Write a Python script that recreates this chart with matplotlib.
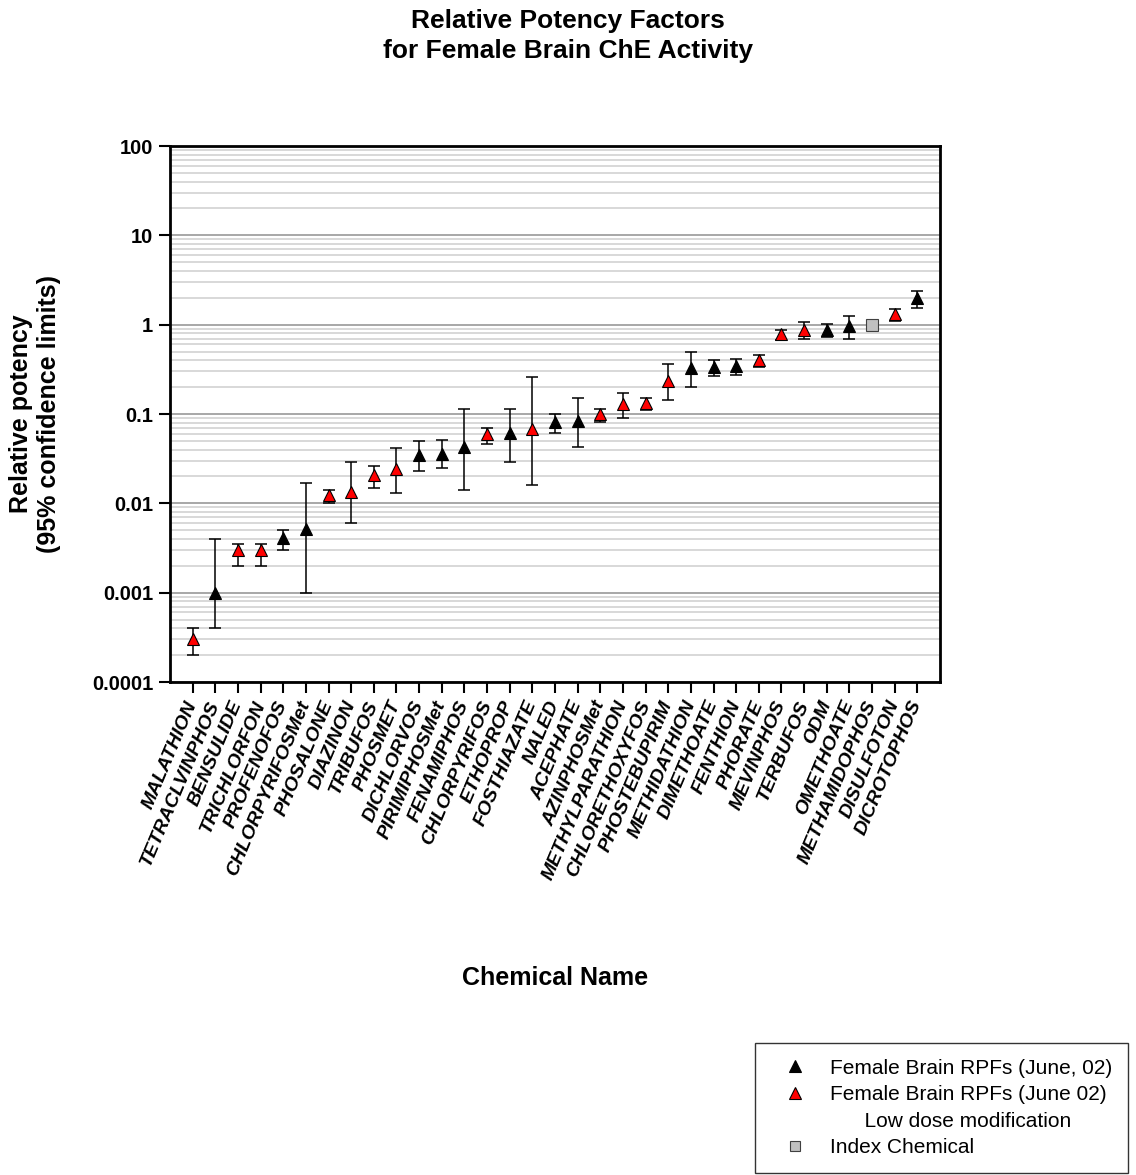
import numpy as np
import matplotlib.pyplot as plt
from matplotlib.lines import Line2D
from matplotlib.ticker import LogLocator, FixedLocator, FixedFormatter

plt.rcParams['font.family'] = ['Liberation Sans', 'DejaVu Sans']

# Chemicals in the order they appear on the x axis
chemicals = ["MALATHION", "TETRACLVINPHOS", "BENSULIDE", "TRICHLORFON", "PROFENOFOS",
             "CHLORPYRIFOSMet", "PHOSALONE", "DIAZINON", "TRIBUFOS", "PHOSMET",
             "DICHLORVOS", "PIRIMIPHOSMet", "FENAMIPHOS", "CHLORPYRIFOS", "ETHOPROP",
             "FOSTHIAZATE", "NALED", "ACEPHATE", "AZINPHOSMet", "METHYLPARATHION",
             "CHLORETHOXYFOS", "PHOSTEBUPIRIM", "METHIDATHION", "DIMETHOATE", "FENTHION",
             "PHORATE", "MEVINPHOS", "TERBUFOS", "ODM", "OMETHOATE",
             "METHAMIDOPHOS", "DISULFOTON", "DICROTOPHOS"]

# relative potency and 95% confidence limits
rpf   = [0.0003, 0.001, 0.003, 0.003, 0.0041, 0.0052, 0.0123, 0.0135, 0.021, 0.024,
         0.035, 0.036, 0.043, 0.059, 0.061, 0.068, 0.082, 0.083, 0.099, 0.13,
         0.133, 0.235, 0.33, 0.335, 0.345, 0.405, 0.79, 0.88, 0.875, 0.96,
         1.0, 1.31, 2.0]
lower = [0.0002, 0.0004, 0.002, 0.002, 0.003, 0.001, 0.01, 0.006, 0.015, 0.013,
         0.023, 0.025, 0.014, 0.046, 0.029, 0.016, 0.062, 0.043, 0.082, 0.09,
         0.11, 0.145, 0.2, 0.265, 0.27, 0.34, 0.68, 0.70, 0.73, 0.70,
         1.0, 1.11, 1.55]
upper = [0.0004, 0.004, 0.0035, 0.0035, 0.005, 0.017, 0.014, 0.029, 0.026, 0.042,
         0.05, 0.051, 0.115, 0.07, 0.115, 0.26, 0.1, 0.15, 0.114, 0.17,
         0.15, 0.36, 0.49, 0.40, 0.41, 0.46, 0.88, 1.06, 1.02, 1.25,
         1.0, 1.48, 2.4]
# 'june' = Female Brain RPFs (June, 02), 'low' = low dose modification, 'index' = index chemical
group = ["low", "june", "low", "low", "june", "june", "low", "low", "low", "low",
         "june", "june", "june", "low", "june", "low", "june", "june", "low", "low",
         "low", "low", "june", "june", "june", "low", "low", "low", "june", "june",
         "index", "low", "june"]

ytick_vals = [0.0001, 0.001, 0.01, 0.1, 1, 10, 100]
ytick_labels = ["0.0001", "0.001", "0.01", "0.1", "1", "10", "100"]

x = np.arange(len(chemicals))
rpf = np.array(rpf)
lower = np.array(lower)
upper = np.array(upper)
group = np.array(group)

fig = plt.figure(figsize=(11.36, 11.75), dpi=100)
ax = fig.add_axes([170/1136, 1 - 682/1175, 770/1136, 536/1175])

# error bars for everything except the index chemical
m = group != "index"
ax.errorbar(x[m], rpf[m], yerr=[rpf[m] - lower[m], upper[m] - rpf[m]], fmt='none',
            ecolor='black', elinewidth=1.1, capsize=4.3, capthick=1.1, zorder=3)

ax.plot(x[group == "june"], rpf[group == "june"], '^', ms=9, mfc='black', mec='black',
        mew=0.8, zorder=4)
ax.plot(x[group == "low"], rpf[group == "low"], '^', ms=9, mfc='red', mec='black',
        mew=0.8, zorder=4)
ax.plot(x[group == "index"], rpf[group == "index"], 's', ms=8, mfc='#c0c0c0', mec='#404040',
        mew=0.8, zorder=4)

ax.set_yscale('log')
ax.set_ylim(1e-4, 100)
ax.set_xlim(-1, len(chemicals))
ax.yaxis.set_major_locator(FixedLocator(ytick_vals))
ax.yaxis.set_major_formatter(FixedFormatter(ytick_labels))
ax.yaxis.set_minor_locator(LogLocator(base=10, subs=np.arange(2, 10)))
ax.yaxis.grid(True, which='major', color='#a0a0a0', lw=1.3)
ax.yaxis.grid(True, which='minor', color='#d6d6d6', lw=1.3)
ax.set_axisbelow(True)

ax.set_xticks(x)
ax.set_xticklabels(chemicals, rotation=67, ha='right', va='center', rotation_mode='anchor',
                   fontsize=14, fontweight='bold', fontstyle='italic')
for lab in ax.get_yticklabels():
    lab.set_fontsize(14.5)
    lab.set_fontweight('bold')

ax.tick_params(which='major', direction='out', length=8, width=1.5, pad=4)
ax.tick_params(axis='x', pad=6)
ax.tick_params(which='minor', length=0)
for s in ax.spines.values():
    s.set_linewidth(2)

fig.text(568/1136, 1 - 36/1175, "Relative Potency Factors\nfor Female Brain ChE Activity",
         ha='center', va='center', fontsize=19, fontweight='bold', linespacing=1.3)
fig.text(35/1136, 1 - 414/1175, "Relative potency\n(95% confidence limits)", rotation=90,
         ha='center', va='center', fontsize=18, fontweight='bold', linespacing=1.2)
fig.text(555/1136, 1 - 978/1175, "Chemical Name", ha='center', va='center',
         fontsize=18, fontweight='bold')

handles = [
    Line2D([], [], ls='none', marker='^', ms=8, mfc='black', mec='black', mew=0.8),
    Line2D([], [], ls='none', marker='^', ms=8, mfc='red', mec='black', mew=0.8),
    Line2D([], [], ls='none'),
    Line2D([], [], ls='none', marker='s', ms=7, mfc='#c0c0c0', mec='#404040', mew=0.8),
]
labels = ["Female Brain RPFs (June, 02)", "Female Brain RPFs (June 02)",
          "      Low dose modification", "Index Chemical"]
leg = fig.legend(handles, labels, loc='upper left', bbox_to_anchor=(755/1136, 1 - 1043/1175),
                 fontsize=15, frameon=True, fancybox=False, edgecolor='black',
                 handlelength=2.35, handletextpad=0.5, labelspacing=0.36, borderpad=0.75,
                 borderaxespad=0)
leg.get_frame().set_linewidth(1.0)

fig.savefig("out.png", dpi=100)
